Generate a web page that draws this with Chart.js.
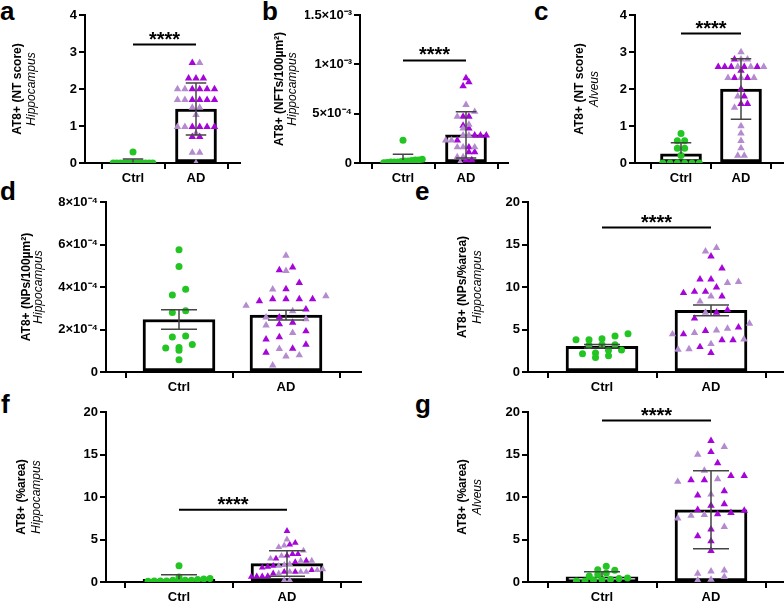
<!DOCTYPE html>
<html>
<head>
<meta charset="utf-8">
<script src="https://cdn.jsdelivr.net/npm/chart.js@4.4.0/dist/chart.umd.min.js"></script>
<style>
  body { margin: 0; background: #fff; width: 784px; height: 604px; position: relative; overflow: hidden; font-family: "Liberation Sans", Arial, sans-serif; }
  .panel { position: absolute; }
  .letter { position: absolute; font-weight: bold; font-size: 26px; line-height: 26px; color: #000; }
</style>
</head>
<body>
<div class="letter" style="left:0px;top:-2px">a</div>
<div class="letter" style="left:262px;top:-2px">b</div>
<div class="letter" style="left:534px;top:-2px">c</div>
<div class="letter" style="left:0px;top:178px">d</div>
<div class="letter" style="left:415px;top:178px">e</div>
<div class="letter" style="left:1px;top:391px">f</div>
<div class="letter" style="left:415px;top:391px">g</div>

<script>
'use strict';

const categories = ['Ctrl', 'AD'];

//// a : NT score, hippocampus
const ctrlA = [0.3, 0, 0, 0, 0, 0, 0, 0, 0, 0, 0, 0, 0];
const adDarkA = [2.71, 2.29, 2.29, 2.29, 2.0, 2.0, 2.0, 2.0, 1.71, 1.71, 1.71, 1.71, 0.98, 0.98, 0.98, 0.98, 0.71, 0.71];
const adLightA = [2.71, 2.0, 2.0, 1.71, 1.71, 1.5, 1.5, 1.3, 0.98, 0.98, 0.8, 0.28, 0.28, 0];
const meanA = [0.02, 1.46];
const errA = [0.09, 0.7];
const ticksA = [0, 1, 2, 3, 4];
const tickLabelsA = ['0', '1', '2', '3', '4'];
const sigA = 3.2;

//// b : NFTs / 100µm², hippocampus
const ctrlB = [2.3e-4, 0.37e-4, 0.3e-4, 0.25e-4, 0.2e-4, 0.15e-4, 0.1e-4, 0.1e-4, 0.05e-4, 0.3e-4, 0.2e-4, 0.1e-4, 0.02e-4];
const adDarkB = [8.6e-4, 8.2e-4, 7.8e-4, 4.7e-4, 4.7e-4, 3.8e-4, 3.5e-4, 2.8e-4, 2.8e-4, 2.8e-4, 2.3e-4, 1.6e-4, 1.1e-4, 1.1e-4, 0.3e-4, 0.3e-4];
const adLightB = [5.9e-4, 5.2e-4, 4.7e-4, 3.9e-4, 3.5e-4, 2.8e-4, 2.8e-4, 2.3e-4, 2.3e-4, 1.6e-4, 1.6e-4, 1.6e-4, 0.6e-4, 0.6e-4, 0.05e-4];
const meanB = [0.3e-4, 2.85e-4];
const errB = [0.58e-4, 2.35e-4];
const ticksB = [0, 5e-4, 1e-3, 1.5e-3];
const tickLabelsB = ['0', '5×10⁻⁴', '1×10⁻³', '1.5×10⁻³'];
const sigB = 1.04e-3;

//// c : NT score, alveus
const ctrlC = [0.8, 0.6, 0.6, 0.4, 0.4, 0.2, 0, 0, 0, 0, 0, 0];
const adDarkC = [2.8, 2.6, 2.6, 2.6, 2.6, 2.6, 2.5, 2.3, 2.3, 2.0, 1.8, 1.6, 1.6];
const adLightC = [3.0, 2.8, 2.8, 2.6, 2.6, 2.6, 2.3, 2.3, 2.3, 1.8, 1.5, 1.0, 0.8, 0.6, 0.4, 0.2, 0.2];
const meanC = [0.25, 2.0];
const errC = [0.3, 0.82];
const ticksC = [0, 1, 2, 3, 4];
const tickLabelsC = ['0', '1', '2', '3', '4'];
const sigC = 3.5;

//// d : NPs / 100µm², hippocampus
const ctrlD = [5.75e-4, 4.96e-4, 3.89e-4, 3.62e-4, 2.88e-4, 2.8e-4, 1.69e-4, 1.65e-4, 1.29e-4, 1.15e-4, 1.13e-4, 1.02e-4, 0.58e-4];
const adDarkD = [4.93e-4, 4.8e-4, 4.2e-4, 3.9e-4, 3.43e-4, 3.43e-4, 3.43e-4, 3.43e-4, 3.34e-4, 2.95e-4, 2.57e-4, 2.33e-4, 2.25e-4, 1.92e-4, 1.64e-4, 1.54e-4, 1.29e-4, 1.1e-4, 0.91e-4];
const adLightD = [5.48e-4, 4.76e-4, 3.89e-4, 3.57e-4, 3.12e-4, 2.87e-4, 2.57e-4, 2.49e-4, 2.2e-4, 1.84e-4, 1.09e-4, 0.79e-4, 0.74e-4, 0.31e-4];
const meanD = [2.47e-4, 2.68e-4];
const errD = [0.46e-4, 0.23e-4];
const ticksD = [0, 2e-4, 4e-4, 6e-4, 8e-4];
const tickLabelsD = ['0', '2×10⁻⁴', '4×10⁻⁴', '6×10⁻⁴', '8×10⁻⁴'];
const sigD = null;

//// e : NPs / %area, hippocampus
const ctrlE = [4.5, 4.25, 3.9, 3.8, 3.8, 3.2, 3.2, 3.15, 2.6, 2.55, 2.25, 2.15, 1.9, 1.7];
const adDarkE = [13.6, 12.2, 10.9, 10.9, 9.96, 9.45, 9.45, 9.3, 8.9, 7.3, 7.0, 6.3, 5.25, 4.85, 4.45, 3.75, 3.75, 2.95, 2.25];
const adLightE = [14.6, 14.2, 10.6, 10.5, 8.9, 8.3, 7.0, 5.7, 5.1, 4.9, 4.6, 4.45, 3.85, 3.3, 2.7, 2.65];
const meanE = [3.03, 7.25];
const errE = [0.22, 0.62];
const ticksE = [0, 5, 10, 15, 20];
const tickLabelsE = ['0', '5', '10', '15', '20'];
const sigE = 17;

//// f : %area, hippocampus
const ctrlF = [1.9, 0.6, 0.4, 0.35, 0.28, 0.2, 0.2, 0.2, 0.2, 0.12, 0.12, 0.12, 0.1];
const adDarkF = [6.0, 4.6, 4.4, 3.3, 3.3, 3.1, 2.75, 2.5, 2.35, 1.9, 1.8, 1.7, 1.4, 1.2, 1.2, 1.0, 0.7, 0.67, 0.67, 0.6];
const adLightF = [5.0, 4.3, 4.1, 3.7, 3.07, 2.75, 2.5, 2.5, 2.1, 2.0, 1.9, 1.5, 1.4, 1.2, 1.2, 1.2, 1.0, 0.2, 0.2];
const meanF = [0.32, 2.17];
const errF = [0.52, 1.5];
const ticksF = [0, 5, 10, 15, 20];
const tickLabelsF = ['0', '5', '10', '15', '20'];
const sigF = 8.5;

//// g : %area, alveus
const ctrlG = [1.85, 1.45, 1.38, 1.06, 0.87, 0.7, 0.47, 0.4, 0.3, 0.28, 0.2, 0.12, 0.12];
const adDarkG = [16.6, 15.3, 14.0, 12.5, 12.5, 12.0, 12.0, 10.7, 10.2, 9.17, 9.0, 8.5, 8.4, 8.15, 8.0, 6.2, 5.4, 4.8, 3.66];
const adLightG = [15.9, 15.0, 13.1, 12.1, 11.8, 10.3, 7.9, 7.8, 7.5, 6.5, 1.38, 1.26, 0.98, 0.6, 0.28, 0.2];
const meanG = [0.6, 8.5];
const errG = [0.6, 4.6];
const ticksG = [0, 5, 10, 15, 20];
const tickLabelsG = ['0', '5', '10', '15', '20'];
const sigG = 19;

const GREEN = '#22c522';
const DARK = '#a505d8';
const LIGHT = '#b58bd0';
const FONT = '"Liberation Sans", Arial, sans-serif';

//// panel layout (page pixels) + styles ; bin/gap = [ctrl, AD]
const panels = [
  { ctrl: ctrlA, dark: adDarkA, light: adLightA, mean: meanA, err: errA, ticks: ticksA, labels: tickLabelsA, sig: sigA,
    title: 'AT8+ (NT score)', region: 'Hippocampus', titleX: [-67, -53],
    axisX: 85, right: 240, top: 15, bottom: 163, ctrlX: 133, adX: 196, bar: 41, bin: [6, 6], gap: [3.6, 7.4], tri: 4.3 },
  { ctrl: ctrlB, dark: adDarkB, light: adLightB, mean: meanB, err: errB, ticks: ticksB, labels: tickLabelsB, sig: sigB,
    title: 'AT8+ (NFTs/100µm²)', region: 'Hippocampus', titleX: [-80, -67],
    axisX: 360, right: 508, top: 15, bottom: 163, ctrlX: 403, adX: 466, bar: 41, bin: [9, 8], gap: [3.5, 5.8], tri: 4.3 },
  { ctrl: ctrlC, dark: adDarkC, light: adLightC, mean: meanC, err: errC, ticks: ticksC, labels: tickLabelsC, sig: sigC,
    title: 'AT8+ (NT score)', region: 'Alveus', titleX: [-55, -40],
    axisX: 635, right: 783, top: 15, bottom: 163, ctrlX: 681, adX: 741, bar: 41, bin: [7, 7], gap: [7.3, 6.5], tri: 4.3 },
  { ctrl: ctrlD, dark: adDarkD, light: adLightD, mean: meanD, err: errD, ticks: ticksD, labels: tickLabelsD, sig: sigD,
    title: 'AT8+ (NPs/100µm²)', region: 'Hippocampus', titleX: [-79, -67],
    axisX: 106, right: 361, top: 202, bottom: 372, ctrlX: 179, adX: 286, bar: 72, bin: [9, 12], gap: [13.3, 13.3], tri: 4.3 },
  { ctrl: ctrlE, dark: adDarkE, light: adLightE, mean: meanE, err: errE, ticks: ticksE, labels: tickLabelsE, sig: sigE,
    title: 'AT8+ (NPs/%area)', region: 'Hippocampus', titleX: [-65, -50],
    axisX: 528, right: 783, top: 202, bottom: 372, ctrlX: 602, adX: 711, bar: 72, bin: [7, 14], gap: [13, 11], tri: 4.3 },
  { ctrl: ctrlF, dark: adDarkF, light: adLightF, mean: meanF, err: errF, ticks: ticksF, labels: tickLabelsF, sig: sigF,
    title: 'AT8+ (%area)', region: 'Hippocampus', titleX: [-84, -69],
    axisX: 106, right: 361, top: 412, bottom: 582, ctrlX: 179, adX: 287, bar: 72, bin: [9, 9], gap: [6.2, 5.5], tri: 3.9 },
  { ctrl: ctrlG, dark: adDarkG, light: adLightG, mean: meanG, err: errG, ticks: ticksG, labels: tickLabelsG, sig: sigG,
    title: 'AT8+ (%area)', region: 'Alveus', titleX: [-65, -50],
    axisX: 528, right: 783, top: 412, bottom: 582, ctrlX: 602, adX: 711, bar: 72, bin: [8, 13], gap: [8.5, 13.3], tri: 4.3 }
];

//// scatter layout: rows of points like a column scatter plot
function swarm(values, pxPerUnit, binPx, gapPx, pxPerX) {
  const order = values.map((v, i) => i).sort((a, b) => values[a] - values[b] || a - b);
  const bins = {};
  order.forEach(i => {
    const b = Math.round(values[i] * pxPerUnit / binPx);
    (bins[b] = bins[b] || []).push(i);
  });
  const off = new Array(values.length).fill(0);
  Object.values(bins).forEach(list => {
    list.forEach((i, k) => { off[i] = (k - (list.length - 1) / 2) * gapPx / pxPerX; });
  });
  return off;
}

const extras = {
  id: 'extras',
  afterDatasetsDraw(chart, args, opts) {
    const p = opts.panel;
    const { x, y } = chart.scales;
    const ctx = chart.ctx;
    ctx.save();
    // error bars
    ctx.strokeStyle = '#444';
    ctx.lineWidth = 1.5;
    p.mean.forEach((m, i) => {
      const cx = x.getPixelForValue(i);
      const half = p.bar * 0.25;
      const my = y.getPixelForValue(m);
      const hi = y.getPixelForValue(m + p.err[i]);
      ctx.beginPath();
      ctx.moveTo(cx, my); ctx.lineTo(cx, hi);
      ctx.moveTo(cx - half, hi); ctx.lineTo(cx + half, hi);
      if (m - p.err[i] > 0) {
        const lo = y.getPixelForValue(m - p.err[i]);
        ctx.moveTo(cx, my); ctx.lineTo(cx, lo);
        ctx.moveTo(cx - half, lo); ctx.lineTo(cx + half, lo);
      }
      ctx.stroke();
    });
    // significance
    if (p.sig !== null) {
      const sy = y.getPixelForValue(p.sig);
      const x0 = x.getPixelForValue(0), x1 = x.getPixelForValue(1);
      ctx.strokeStyle = '#000';
      ctx.lineWidth = 2;
      ctx.beginPath();
      ctx.moveTo(x0, sy); ctx.lineTo(x1, sy);
      ctx.stroke();
      ctx.fillStyle = '#000';
      ctx.font = 'bold 20px ' + FONT;
      ctx.textAlign = 'center';
      ctx.textBaseline = 'alphabetic';
      ctx.fillText('****', (x0 + x1) / 2, sy + 1);
    }
    // axis titles
    const ca = chart.chartArea;
    const cy = (ca.top + ca.bottom) / 2;
    ctx.fillStyle = '#000';
    ctx.textAlign = 'center';
    ctx.textBaseline = 'middle';
    ctx.translate(ca.left + p.titleX[0], cy);
    ctx.rotate(-Math.PI / 2);
    ctx.font = 'bold 12px ' + FONT;
    ctx.fillText(p.title, 0, 0);
    ctx.restore();
    ctx.save();
    ctx.fillStyle = '#000';
    ctx.textAlign = 'center';
    ctx.textBaseline = 'middle';
    ctx.translate(ca.left + p.titleX[1], cy);
    ctx.rotate(-Math.PI / 2);
    ctx.font = 'italic 12px ' + FONT;
    ctx.fillText(p.region, 0, 0);
    ctx.restore();
  }
};

function makeChart(p) {
  const boxLeft = p.axisX - 95, boxTop = p.top - 15;
  const boxW = p.right - boxLeft + 6, boxH = p.bottom - boxTop + 30;
  const div = document.createElement('div');
  div.className = 'panel';
  div.style.left = boxLeft + 'px';
  div.style.top = boxTop + 'px';
  const canvas = document.createElement('canvas');
  canvas.width = boxW;
  canvas.height = boxH;
  canvas.style.width = boxW + 'px';
  canvas.style.height = boxH + 'px';
  div.appendChild(canvas);
  document.body.appendChild(div);

  const yMax = p.ticks[p.ticks.length - 1];
  const ppu = (p.bottom - p.top) / yMax;
  const dx = p.adX - p.ctrlX;

  const ctrlOff = swarm(p.ctrl, ppu, p.bin[0], p.gap[0], dx);
  // mix both AD shades so the rows interleave colours
  const ad = [];
  const n = Math.max(p.dark.length, p.light.length);
  for (let i = 0; i < n; i++) {
    if (i < p.dark.length) ad.push({ v: p.dark[i], c: 'd' });
    if (i < p.light.length) ad.push({ v: p.light[i], c: 'l' });
  }
  const adOff = swarm(ad.map(o => o.v), ppu, p.bin[1], p.gap[1], dx);
  const darkPts = [], lightPts = [];
  ad.forEach((o, i) => (o.c === 'd' ? darkPts : lightPts).push({ x: 1 + adOff[i], y: o.v }));

  new Chart(canvas, {
    type: 'bar',
    data: {
      datasets: [
        { type: 'scatter', data: p.ctrl.map((v, i) => ({ x: ctrlOff[i], y: v })),
          pointStyle: 'circle', pointRadius: 3.5, backgroundColor: GREEN, borderWidth: 0, order: 0 },
        { type: 'scatter', data: lightPts,
          pointStyle: 'triangle', pointRadius: p.tri, backgroundColor: LIGHT, borderWidth: 0, order: 0 },
        { type: 'scatter', data: darkPts,
          pointStyle: 'triangle', pointRadius: p.tri, backgroundColor: DARK, borderWidth: 0, order: 0 },
        { type: 'bar', data: p.mean.map((m, i) => ({ x: i, y: m })),
          backgroundColor: '#fff', borderColor: '#000', borderWidth: 3, borderSkipped: false,
          barThickness: p.bar, order: 5 }
      ]
    },
    options: {
      responsive: false,
      animation: false,
      events: [],
      layout: { padding: { left: 40, top: 15, right: 6, bottom: 6 } },
      plugins: { legend: { display: false }, tooltip: { enabled: false }, extras: { panel: p } },
      scales: {
        x: {
          type: 'linear',
          offset: false,
          min: -(p.ctrlX - p.axisX) / dx,
          max: 1 + (p.right - p.adX) / dx,
          afterBuildTicks: s => { s.ticks = [{ value: 0 }, { value: 1 }]; },
          afterFit: s => { s.height = 24; },
          grid: { drawOnChartArea: false, drawTicks: true, tickLength: 6, color: '#000', lineWidth: 2 },
          border: { display: true, color: '#000', width: 2 },
          ticks: { callback: (v, i) => categories[i], color: '#000', padding: 2, maxRotation: 0,
                   font: { family: FONT, size: 13, weight: 'bold' } }
        },
        y: {
          min: 0,
          max: yMax,
          afterBuildTicks: s => { s.ticks = p.ticks.map(v => ({ value: v })); },
          afterFit: s => { s.width = 55; },
          grid: { drawOnChartArea: false, drawTicks: true, tickLength: 6, color: '#000', lineWidth: 2 },
          border: { display: true, color: '#000', width: 2 },
          ticks: { callback: (v, i) => p.labels[i], color: '#000', padding: 2,
                   font: { family: FONT, size: 13, weight: 'bold' } }
        }
      }
    },
    plugins: [extras]
  });
}

panels.forEach(makeChart);
</script>
</body>
</html>
